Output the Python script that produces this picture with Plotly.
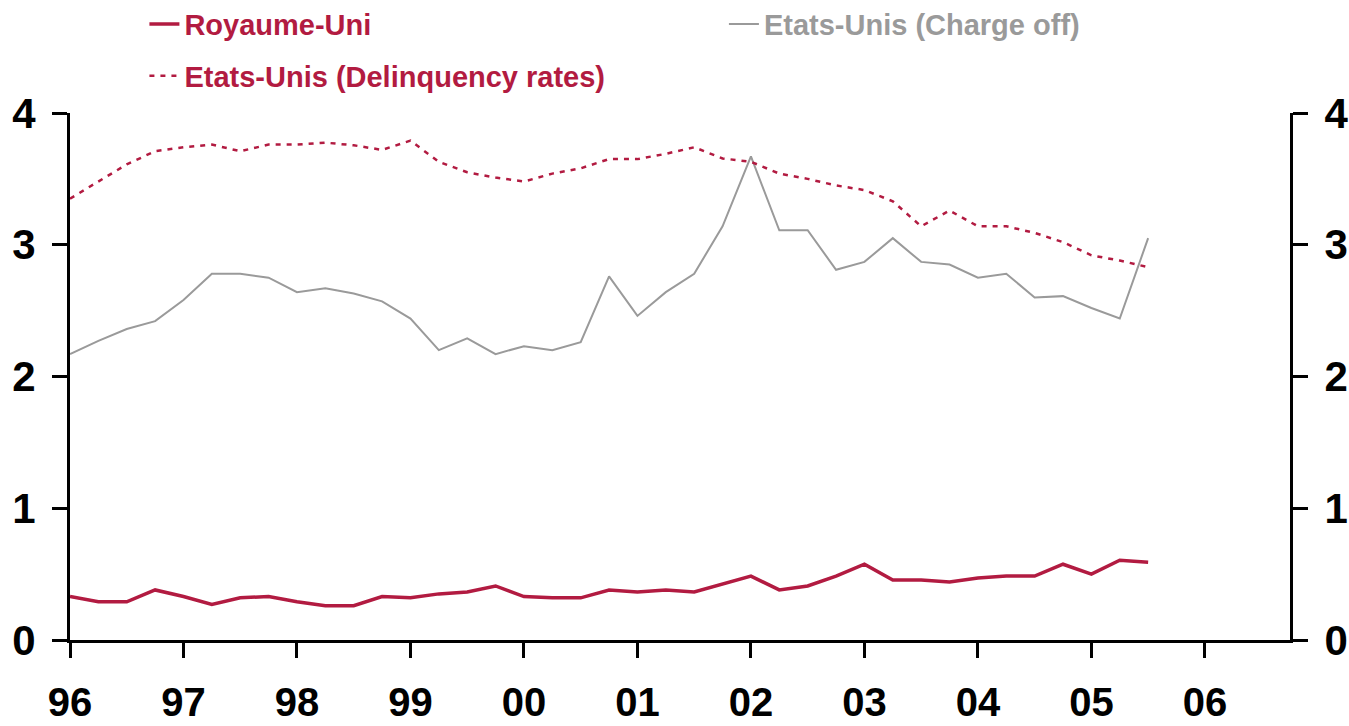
import plotly.graph_objects as go

# Quarterly observations, 1996Q1 .. 2005Q3
years = [1996, 1997, 1998, 1999, 2000, 2001, 2002, 2003, 2004, 2005]
quarters = [y + q / 4 for y in years for q in range(4)][:39]

royaume_uni = [0.33, 0.29, 0.29, 0.38, 0.33, 0.27, 0.32, 0.33, 0.29, 0.26,
               0.26, 0.33, 0.32, 0.35, 0.365, 0.41, 0.33, 0.32, 0.32, 0.38,
               0.365, 0.38, 0.365, 0.425, 0.485, 0.38, 0.41, 0.485, 0.575, 0.455,
               0.455, 0.44, 0.47, 0.485, 0.485, 0.575, 0.50, 0.605, 0.59]

charge_off = [2.17, 2.27, 2.36, 2.42, 2.58, 2.78, 2.78, 2.75, 2.64, 2.67,
              2.63, 2.57, 2.44, 2.20, 2.29, 2.17, 2.23, 2.20, 2.26, 2.76,
              2.46, 2.64, 2.78, 3.14, 3.67, 3.11, 3.11, 2.81, 2.87, 3.05,
              2.87, 2.85, 2.75, 2.78, 2.60, 2.61, 2.52, 2.44, 3.05]

delinquency = [3.35, 3.48, 3.61, 3.71, 3.74, 3.76, 3.71, 3.76, 3.76, 3.775,
               3.755, 3.72, 3.79, 3.63, 3.55, 3.51, 3.48, 3.54, 3.58, 3.65,
               3.65, 3.69, 3.74, 3.655, 3.63, 3.54, 3.50, 3.45, 3.415, 3.33,
               3.14, 3.26, 3.14, 3.14, 3.09, 3.02, 2.92, 2.88, 2.83]

tick_vals = [1996, 1997, 1998, 1999, 2000, 2001, 2002, 2003, 2004, 2005, 2006]
tick_text = ["96", "97", "98", "99", "00", "01", "02", "03", "04", "05", "06"]
y_ticks = [0, 1, 2, 3, 4]

CRIMSON = "#B21B41"
GREY = "#9A9A9A"
FONT = "Liberation Sans"

fig = go.Figure()
fig.add_trace(go.Scatter(
    x=quarters, y=royaume_uni, mode="lines",
    name=f"<b><span style='color:{CRIMSON}'>Royaume-Uni</span></b>",
    line=dict(color=CRIMSON, width=3.5), legend="legend"))
fig.add_trace(go.Scatter(
    x=quarters, y=charge_off, mode="lines", yaxis="y2",
    name=f"<b><span style='color:{GREY}'>Etats-Unis (Charge off)</span></b>",
    line=dict(color=GREY, width=2), legend="legend3"))
fig.add_trace(go.Scatter(
    x=quarters, y=delinquency, mode="lines", yaxis="y2",
    name=f"<b><span style='color:{CRIMSON}'>Etats-Unis (Delinquency rates)</span></b>",
    line=dict(color=CRIMSON, width=2.5, dash="5px,6px"), legend="legend2"))

axis_font = dict(family=FONT, size=42, color="black", weight="bold")
x_font = dict(family=FONT, size=40, color="black", weight="bold")
leg_font = dict(family=FONT, size=29)

def leg(x, y):
    return dict(orientation="h", x=x, y=y, xanchor="left", yanchor="top",
                font=leg_font, bgcolor="rgba(0,0,0,0)")

fig.update_layout(
    width=1349, height=726,
    margin=dict(l=70, r=59, t=113, b=86, autoexpand=False),
    paper_bgcolor="white", plot_bgcolor="white",
    font=dict(family=FONT),
    showlegend=True,
    legend=leg(0.061, 1.217),
    legend3=leg(0.536, 1.217),
    legend2=leg(0.061, 1.119),
    xaxis=dict(range=[1996, 2006.75], tickvals=tick_vals, ticktext=tick_text,
               showgrid=False, zeroline=False, showline=True, linecolor="black",
               linewidth=3, ticks="outside", ticklen=15, tickwidth=3,
               tickcolor="black", tickfont=x_font, ticklabelstandoff=10,
               automargin=False),
    yaxis=dict(range=[0, 4], tickvals=y_ticks, showgrid=False, zeroline=False,
               showline=True, linecolor="black", linewidth=3, ticks="outside",
               ticklen=15, tickwidth=3, tickcolor="black", tickfont=axis_font,
               ticklabelstandoff=8, automargin=False),
    yaxis2=dict(range=[0, 4], tickvals=y_ticks, overlaying="y", side="right",
                anchor="x", showgrid=False, zeroline=False, showline=True,
                linecolor="black", linewidth=3, ticks="outside", ticklen=15,
                tickwidth=3, tickcolor="black", tickfont=axis_font,
                ticklabelstandoff=8, automargin=False),
)

fig.write_html("out.html", config={"displayModeBar": False},
               post_script="document.body.style.margin='0px';")
